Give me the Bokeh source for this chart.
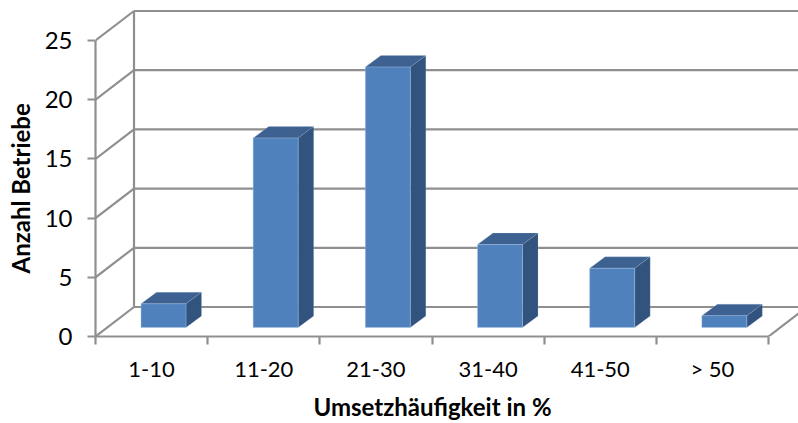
from bokeh.embed import file_html
from bokeh.models import FixedTicker, LinearAxis, Range1d, Title
from bokeh.plotting import figure
from bokeh.resources import INLINE

categories = ["1-10", "11-20", "21-30", "31-40", "41-50", "> 50"]
betriebe = [2, 16, 22, 7, 5, 1]
y_ticks = [0, 5, 10, 15, 20, 25]

GRID = "#8f8f8f"
FRONT = "#4f81bd"
TOP = "#3d6292"
SIDE = "#32537d"
EDGE = "#a9c3e2"
FONT = "Lato"

# Oblique projection of the chart box, in axis units
PX_CAT = 673 / 6
PX_VAL = 11.84
wall_dx = 38.5 / PX_CAT
wall_dy = 29.5 / PX_VAL
bar_left = 45.5 / PX_CAT
bar_w = 45 / PX_CAT
bar_base = 9 / PX_VAL
depth_dx = 15.5 / PX_CAT
depth_dy = 11.5 / PX_VAL

p = figure(width=798, height=423, frame_width=703, frame_height=336,
           min_border_left=95, min_border_right=0, min_border_top=0, min_border_bottom=87,
           x_range=Range1d(0, 703 / PX_CAT), y_range=Range1d(0, 336 / PX_VAL),
           output_backend="svg", toolbar_location=None, x_axis_type=None, y_axis_type=None)
p.outline_line_color = None
p.xgrid.visible = False
p.ygrid.visible = False
p.background_fill_color = "white"

n = len(categories)

# Side wall diagonals and back wall gridlines
p.segment([0] * len(y_ticks), y_ticks, [wall_dx] * len(y_ticks), [t + wall_dy for t in y_ticks],
          line_color=GRID, line_width=2.2)
p.segment([wall_dx] * len(y_ticks), [t + wall_dy for t in y_ticks],
          [n + wall_dx] * len(y_ticks), [t + wall_dy for t in y_ticks],
          line_color=GRID, line_width=2.2)
p.segment([wall_dx], [wall_dy], [wall_dx], [y_ticks[-1] + wall_dy], line_color=GRID, line_width=2.2)
p.segment([n], [0], [n + wall_dx], [wall_dy], line_color=GRID, line_width=2.2)

# Bars: front face plus top and side faces
lefts = [i + bar_left for i in range(n)]
rights = [l + bar_w for l in lefts]
tops = [bar_base + v for v in betriebe]

p.patches([[l, l + depth_dx, r + depth_dx, r] for l, r in zip(lefts, rights)],
          [[t, t + depth_dy, t + depth_dy, t] for t in tops],
          fill_color=TOP, line_color=EDGE, line_width=0.5, line_alpha=0.4)
p.patches([[r, r + depth_dx, r + depth_dx, r] for r in rights],
          [[bar_base, bar_base + depth_dy, t + depth_dy, t] for t in tops],
          fill_color=SIDE, line_color=EDGE, line_width=0.5, line_alpha=0.4)
p.quad(left=lefts, right=rights, bottom=[bar_base] * n, top=tops,
       fill_color=FRONT, line_color=EDGE, line_width=0.8, line_alpha=0.5)

# Value axis
yaxis = LinearAxis(ticker=FixedTicker(ticks=y_ticks), bounds=(0, 25))
yaxis.axis_line_color = GRID
yaxis.axis_line_width = 2.2
yaxis.major_tick_line_color = GRID
yaxis.major_tick_line_width = 2.2
yaxis.major_tick_out = 8
yaxis.major_tick_in = 0
yaxis.minor_tick_out = 0
yaxis.minor_tick_in = 0
yaxis.major_label_standoff = 15
yaxis.major_label_text_font = FONT
yaxis.major_label_text_font_size = "24px"
yaxis.major_label_text_color = "#000000"
p.add_layout(yaxis, "left")

# Category axis: ticks on the boundaries, labels in the middle of each slot
xaxis = LinearAxis(ticker=FixedTicker(ticks=[i + 0.5 for i in range(n)],
                                      minor_ticks=list(range(n + 1))),
                   bounds=(0, n),
                   major_label_overrides={i + 0.5: c for i, c in enumerate(categories)})
xaxis.axis_line_color = GRID
xaxis.axis_line_width = 2.2
xaxis.major_tick_out = 0
xaxis.major_tick_in = 0
xaxis.minor_tick_line_color = GRID
xaxis.minor_tick_line_width = 2.2
xaxis.minor_tick_out = 8
xaxis.minor_tick_in = 0
xaxis.major_label_standoff = 10
xaxis.major_label_text_font = FONT
xaxis.major_label_text_font_size = "22px"
xaxis.major_label_text_color = "#000000"
p.add_layout(xaxis, "below")

# Axis titles sit in the side panels, offset along the frame
p.add_layout(Title(text="Umsetzhäufigkeit in %", align="left", offset=218, standoff=10,
                   text_font=FONT, text_font_size="24px", text_font_style="bold",
                   text_color="#000000"), "below")
p.add_layout(Title(text="Anzahl Betriebe", align="left", offset=63, standoff=9,
                   vertical_align="top",
                   text_font=FONT, text_font_size="24px", text_font_style="bold",
                   text_color="#000000"), "left")

open("out.html", "w").write(file_html(p, INLINE))
